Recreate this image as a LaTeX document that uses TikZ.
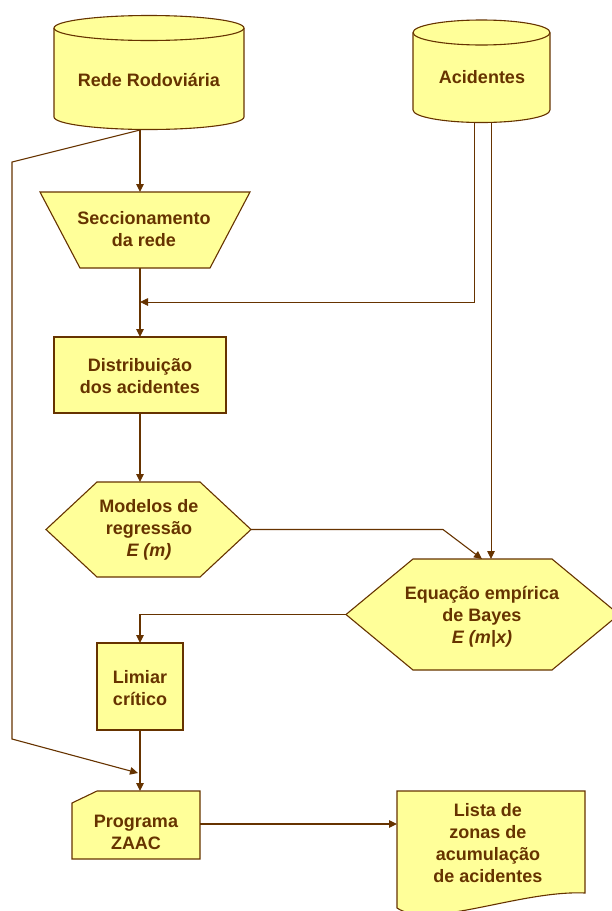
\documentclass[tikz,border=0pt]{standalone}
\usepackage{fontspec}
\setmainfont{Liberation Sans}
\usetikzlibrary{arrows.meta}
\definecolor{brn}{RGB}{102,51,0}
\definecolor{yel}{RGB}{255,255,153}
\tikzset{
  shapeline/.style={draw=brn, fill=yel, line width=1.1pt, line join=miter},
  lbl/.style={text=brn, font=\fontsize{18}{22}\selectfont\bfseries, align=center, inner sep=0pt},
  conn/.style={draw=brn, line width=1.1pt, -{Triangle[length=8pt,width=7.5pt]}},
  connthin/.style={draw=brn, line width=0.9pt, -{Triangle[length=8pt,width=7.5pt]}},
  plainline/.style={draw=brn, line width=1.1pt},
}
\begin{document}
\begin{tikzpicture}[x=1pt,y=-1pt]
\useasboundingbox (0,0) rectangle (612,911);
\begin{scope}
\clip (0,0) rectangle (612,911);
% Rede Rodoviaria cylinder
\path[fill=yel] (54,28) rectangle (244,117);
\path[fill=yel] (149,117) ellipse[x radius=95, y radius=12.5];
\draw[shapeline, fill=none] (54,28) -- (54,117) arc[start angle=180, end angle=0, x radius=95, y radius=12.5] -- (244,28);
\draw[shapeline] (149,28) ellipse[x radius=95, y radius=12.5];
% Acidentes cylinder
\path[fill=yel] (413,32.5) rectangle (550,110);
\path[fill=yel] (481.5,110) ellipse[x radius=68.5, y radius=12.5];
\draw[shapeline, fill=none] (413,32.5) -- (413,110) arc[start angle=180, end angle=0, x radius=68.5, y radius=12.5] -- (550,32.5);
\draw[shapeline] (481.5,32.5) ellipse[x radius=68.5, y radius=12.5];
% Seccionamento trapezoid
\draw[shapeline] (40,192) -- (250,192) -- (210,268) -- (80,268) -- cycle;
% Distribuicao box
\draw[shapeline] (54,337) rectangle (226,413);
% Modelos hexagon
\draw[shapeline] (46,529.5) -- (97,482) -- (200,482) -- (251,529.5) -- (200,577) -- (97,577) -- cycle;
% Equacao hexagon
\draw[shapeline] (346,614.5) -- (413,559) -- (552,559) -- (619,614.5) -- (552,670) -- (413,670) -- cycle;
% Limiar box
\draw[shapeline] (97,643) rectangle (183,730);
% Programa card
\draw[shapeline] (72,803) -- (97,791) -- (200,791) -- (200,859) -- (72,859) -- cycle;
% Lista document
\draw[shapeline] (397,908) -- (397,791) -- (585,791) -- (585,893) .. controls (520,890) and (430,930) .. (397,908) -- cycle;
\end{scope}

% text nodes
\node[lbl] (rede) at (149,80) {Rede Rodoviária};
\node[lbl] (acid) at (482,77) {Acidentes};
\node[lbl] (secc) at (144,229) {Seccionamento\\da rede};
\node[lbl] (dist) at (140,376) {Distribuição\\dos acidentes};
\node[lbl] (mode) at (149,530) {Modelos de\\regressão\\\textit{E (m)}};
\node[lbl] (equa) at (482,617) {Equação empírica\\de Bayes\\\textit{E (m|x)}};
\node[lbl] (limi) at (140,688) {Limiar\\crítico};
\node[lbl] (prog) at (136,832) {Programa\\ZAAC};
\node[lbl] (list) at (488,843) {Lista de\\zonas de\\acumulação\\de acidentes};

% connection points
\coordinate (redeB) at (140,129);
\coordinate (redeS) at (140,130);
\coordinate (k1) at (12,162);
\coordinate (k2) at (12,739);
\coordinate (progIn) at (138,773);
\coordinate (seccT) at (140,192);
\coordinate (seccB) at (140,268);
\coordinate (distT) at (140,337);
\coordinate (distB) at (140,413);
\coordinate (acidL) at (474,122);
\coordinate (acidR) at (491,122);
\coordinate (a1) at (474,302);
\coordinate (joinA) at (140,302);
\coordinate (modeT) at (140,482);
\coordinate (modeR) at (251,529.5);
\coordinate (m1) at (443,529.5);
\coordinate (equaT1) at (482,559);
\coordinate (equaT2) at (491,559);
\coordinate (equaL) at (346,614.5);
\coordinate (e1) at (140,614.5);
\coordinate (limiT) at (140,643);
\coordinate (limiB) at (140,730);
\coordinate (progT) at (140,791);
\coordinate (progR) at (200,824);
\coordinate (listL) at (397,824);

% connectors
\draw[conn] (redeB) -- (seccT);
\draw[conn] (redeS) -- (k1) -- (k2) -- (progIn);
\draw[conn] (seccB) -- (distT);
\draw[connthin] (acidL) -- (a1) -- (joinA);
\draw[conn] (distB) -- (modeT);
\draw[conn] (modeR) -- (m1) -- (equaT1);
\draw[connthin] (acidR) -- (equaT2);
\draw[conn] (equaL) -- (e1) -- (limiT);
\draw[conn] (limiB) -- (progT);
\draw[conn] (progR) -- (listL);
\end{tikzpicture}
\end{document}
